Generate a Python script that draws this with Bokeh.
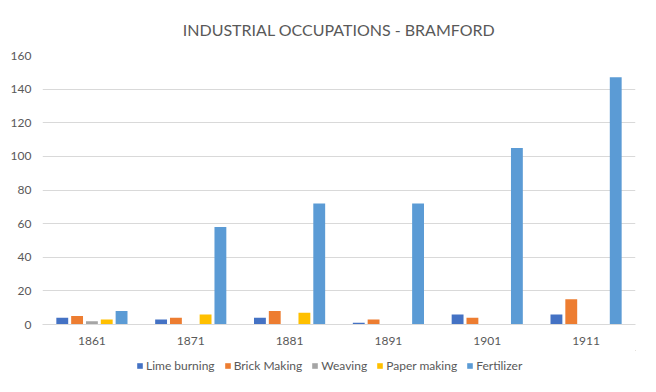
from bokeh.plotting import figure
from bokeh.models import ColumnDataSource, FactorRange, Legend, LegendItem, Range1d
from bokeh.layouts import column
from bokeh.transform import dodge
from bokeh.embed import file_html
from bokeh.resources import INLINE

years = ["1861", "1871", "1881", "1891", "1901", "1911"]
series = ["Lime burning", "Brick Making", "Weaving", "Paper making", "Fertilizer"]
lime = [4, 3, 4, 1, 6, 6]
brick = [5, 4, 8, 3, 4, 15]
weaving = [2, 0, 0, 0, 0, 0]
paper = [3, 6, 7, 0, 0, 0]
fertilizer = [8, 58, 72, 72, 105, 147]
y_ticks = [0, 20, 40, 60, 80, 100, 120, 140, 160]

colors = ["#4472C4", "#ED7D31", "#A5A5A5", "#FFC000", "#5B9BD5"]
keys = ["lime", "brick", "weaving", "paper", "fertilizer"]
offsets = [-0.3, -0.15, 0.0, 0.15, 0.3]

src = ColumnDataSource(dict(year=years, lime=lime, brick=brick, weaving=weaving,
                            paper=paper, fertilizer=fertilizer))

FONT = "Lato"
TXT = "#595959"

p = figure(x_range=FactorRange(*years), y_range=(0, 160), width=640, height=350,
           output_backend="svg", toolbar_location=None,
           min_border_left=42, min_border_right=5, min_border_top=54, min_border_bottom=26)

for k, c, o in zip(keys, colors, offsets):
    p.vbar(x=dodge("year", o, range=p.x_range), top=k, width=0.12, source=src,
           fill_color=c, line_color=None)

p.title.text = "INDUSTRIAL OCCUPATIONS - BRAMFORD"
p.title.align = "center"
p.title.text_font = FONT
p.title.text_font_size = "16px"
p.title.text_font_style = "normal"
p.title.text_color = TXT
p.title.standoff = 34

p.x_range.range_padding = 0

p.yaxis.ticker = y_ticks
p.yaxis.axis_line_color = None
p.yaxis.major_tick_line_color = None
p.yaxis.minor_tick_line_color = None
p.yaxis.major_tick_in = 0
p.yaxis.major_tick_out = 0
p.yaxis.major_label_standoff = 11
p.yaxis.major_label_text_font = FONT
p.yaxis.major_label_text_font_size = "12px"
p.yaxis.major_label_text_color = TXT

p.xaxis.axis_line_color = "#d9d9d9"
p.xaxis.major_tick_line_color = None
p.xaxis.minor_tick_line_color = None
p.xaxis.major_tick_in = 0
p.xaxis.major_tick_out = 0
p.xaxis.major_label_standoff = 12
p.xaxis.major_label_text_font = FONT
p.xaxis.major_label_text_font_size = "12px"
p.xaxis.major_label_text_color = TXT

p.xgrid.grid_line_color = None
p.ygrid.grid_line_color = "#d9d9d9"
p.outline_line_color = None
p.background_fill_color = "white"
p.border_fill_color = "white"

# legend strip (separate small figure so the legend is not clipped)
lg = figure(width=640, height=34, output_backend="svg", toolbar_location=None,
            x_range=Range1d(0, 1), y_range=Range1d(0, 1),
            min_border_left=0, min_border_right=0, min_border_top=0, min_border_bottom=0,
            x_axis_type=None, y_axis_type=None)
lg.grid.visible = False
lg.outline_line_color = None
lg.background_fill_color = "white"
lg.border_fill_color = "white"
# proxy glyphs lying outside the strip's visible range, used only for the legend swatches
proxy = ColumnDataSource(dict(x=[5], top=[5]))
leg_renderers = [lg.vbar(x="x", top="top", bottom=4, width=0.1, source=proxy,
                         fill_color=c, line_color=None) for c in colors]
legend = Legend(items=[LegendItem(label=s, renderers=[r]) for s, r in zip(series, leg_renderers)],
                orientation="horizontal", location=(94, 11),
                border_line_color=None, background_fill_alpha=0,
                glyph_width=7, glyph_height=7, label_standoff=3, spacing=9,
                label_text_font=FONT, label_text_font_size="12px", label_text_color=TXT,
                margin=0, padding=2)
lg.add_layout(legend, "center")

layout = column(p, lg, spacing=0)
open("out.html", "w").write(file_html(layout, INLINE))
